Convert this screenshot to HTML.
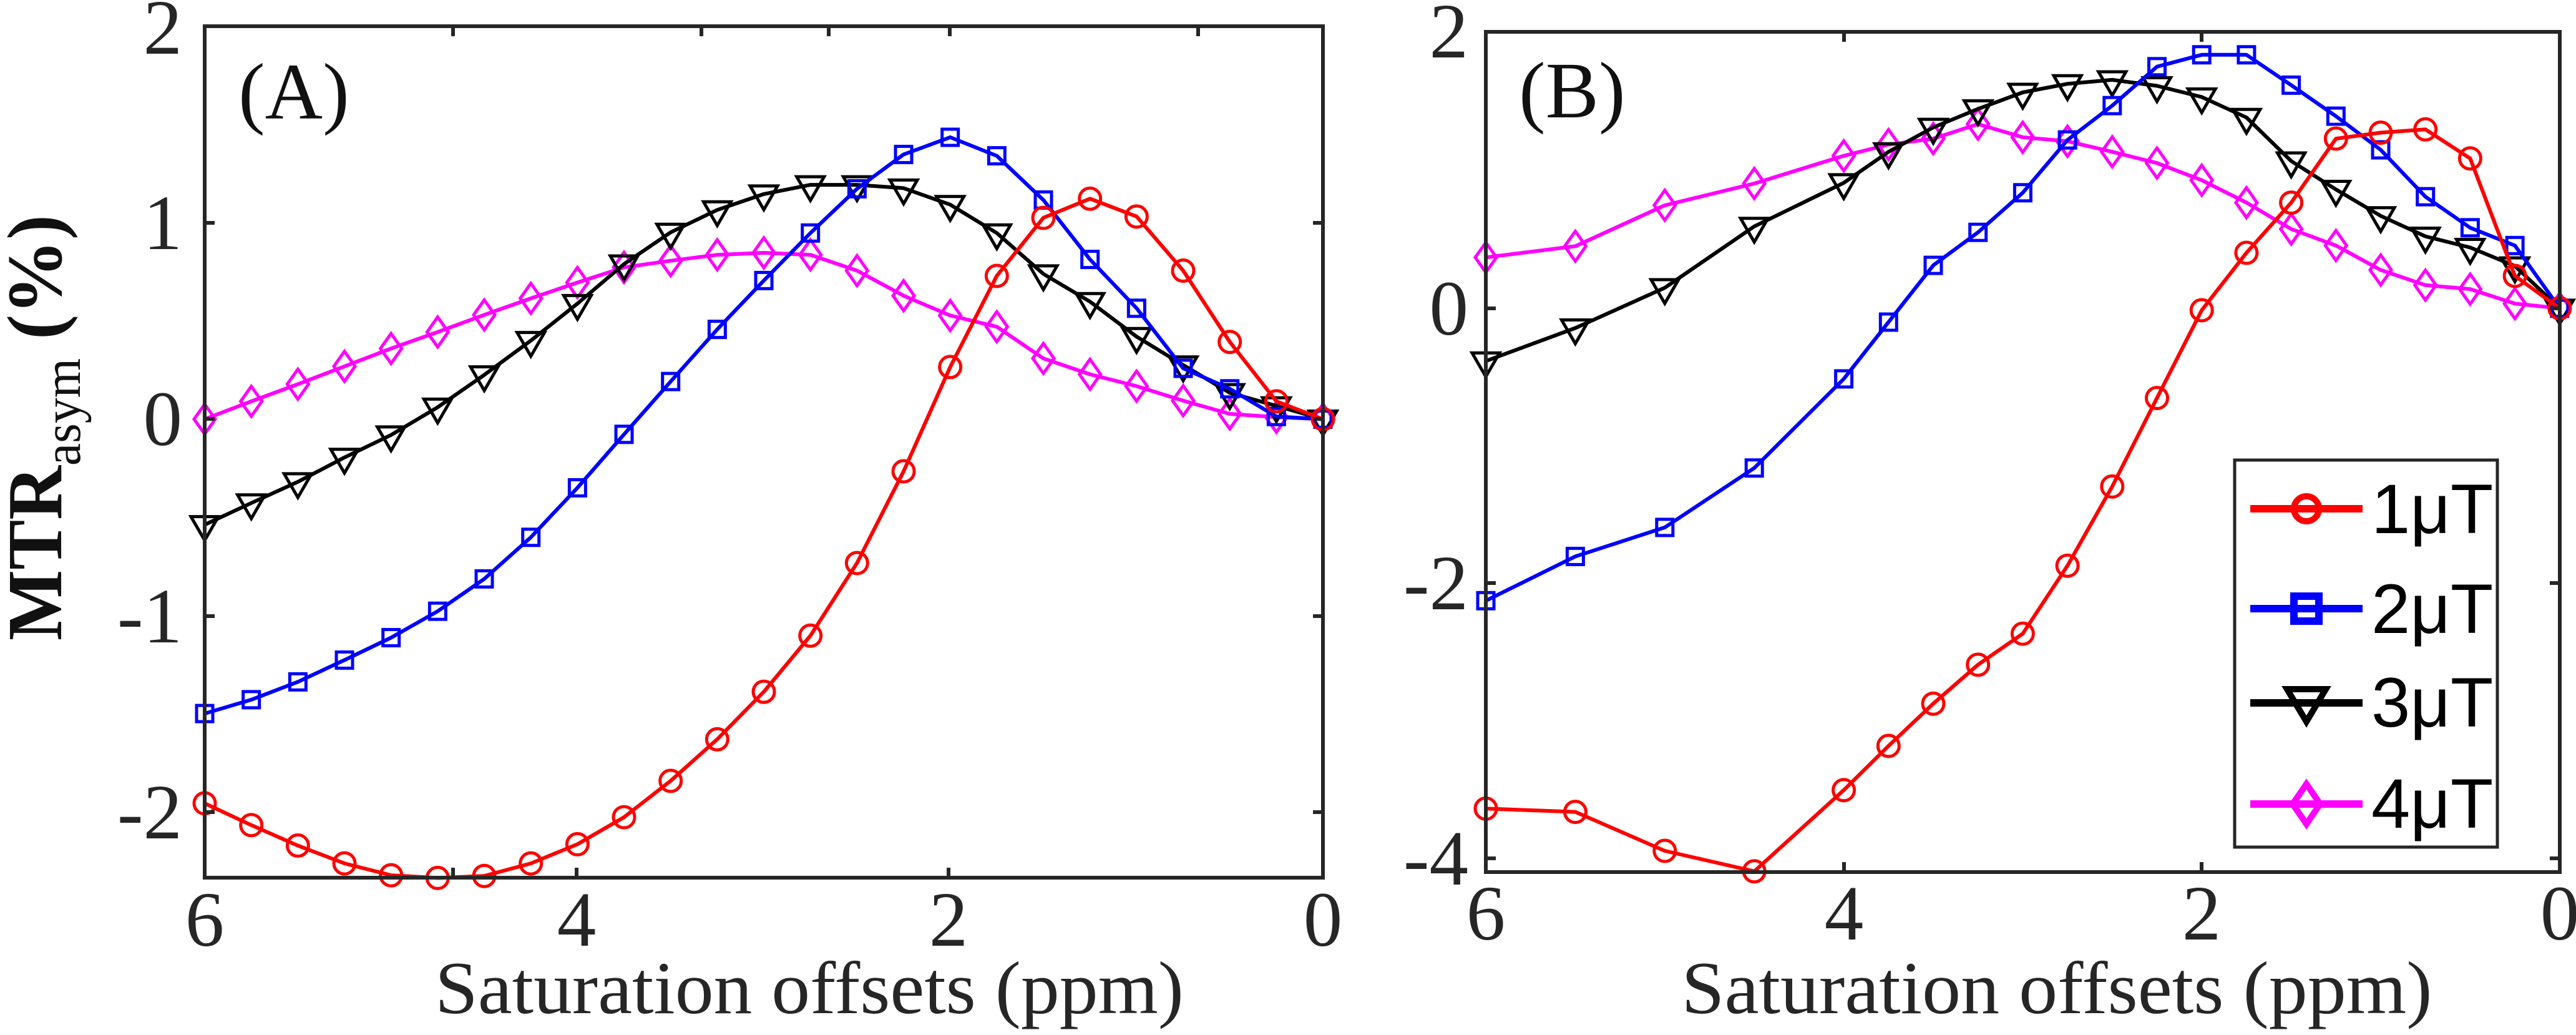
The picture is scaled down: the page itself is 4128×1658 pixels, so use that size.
<!DOCTYPE html>
<html><head><meta charset="utf-8"><style>
html,body{margin:0;padding:0;background:#fff;}
svg{display:block;}
</style></head><body>
<svg id="s" width="4128" height="1658" viewBox="0 0 4128 1658" xmlns="http://www.w3.org/2000/svg">
<rect width="4128" height="1658" fill="#fff"/>
<g id="series"></g>
<g fill="none" stroke="#262626" stroke-width="6">
<rect x="328" y="42" width="1792" height="1364"/>
<rect x="2381" y="51" width="1721" height="1346"/>
<path d="M328 42v16M1124 42v16M1920 42v16M1328 42v16M2120 42v16 M328 1406v-16M924 1406v-16M1520 1406v-16M2120 1406v-16 M726 42v16M1522 42v16 M726 1406v-16 M328 357h16M328 671h16M328 987h16M328 1301h16 M2120 357h-16M2120 671h-16M2120 987h-16M2120 1301h-16"/>
<path d="M2381 51v16M2955 51v16M3528 51v16 M2381 1397v-16M2955 1397v-16M3528 1397v-16 M2381 494h16M2381 934h16M2381 1375h16 M4102 494h-16M4102 934h-16M4102 1375h-16"/>
</g>
<g font-family="Liberation Serif, serif" font-size="125" fill="#262626">
<text x="292" y="86" text-anchor="end">2</text>
<text x="292" y="399" text-anchor="end">1</text>
<text x="292" y="713" text-anchor="end">0</text>
<text x="292" y="1029" text-anchor="end">-1</text>
<text x="292" y="1343" text-anchor="end">-2</text>
<text x="328" y="1515" text-anchor="middle">6</text>
<text x="924" y="1515" text-anchor="middle">4</text>
<text x="1520" y="1515" text-anchor="middle">2</text>
<text x="2120" y="1515" text-anchor="middle">0</text>
<text x="2353" y="92" text-anchor="end">2</text>
<text x="2353" y="536" text-anchor="end">0</text>
<text x="2353" y="976" text-anchor="end">-2</text>
<text x="2353" y="1417" text-anchor="end">-4</text>
<text x="2381" y="1505" text-anchor="middle">6</text>
<text x="2955" y="1505" text-anchor="middle">4</text>
<text x="3528" y="1505" text-anchor="middle">2</text>
<text x="4102" y="1505" text-anchor="middle">0</text>
<text x="1297" y="1623" text-anchor="middle" font-size="120" textLength="1200" lengthAdjust="spacingAndGlyphs">Saturation offsets (ppm)</text>
<text x="3296" y="1623" text-anchor="middle" font-size="120" textLength="1203" lengthAdjust="spacingAndGlyphs">Saturation offsets (ppm)</text>
<text x="382" y="190" font-size="128" fill="#111">(A)</text>
<text x="2434" y="188" font-size="128" fill="#111">(B)</text>
<text transform="translate(98,685) rotate(-90)" text-anchor="middle" fill="#111" font-weight="bold" font-size="125" textLength="682" lengthAdjust="spacingAndGlyphs">MTR<tspan font-weight="normal" font-size="85" dy="30">asym</tspan><tspan dy="-30"> (%)</tspan></text>
</g>
<rect x="3581" y="737" width="421" height="620" fill="#fff" stroke="#262626" stroke-width="5"/>
<g stroke-width="12" fill="none">
<line x1="3606" y1="815" x2="3786" y2="815" stroke="#f00"/>
<circle cx="3696" cy="815" r="20" stroke="#f00" stroke-width="10"/>
<line x1="3606" y1="975" x2="3786" y2="975" stroke="#00f"/>
<rect x="3676" y="955" width="40" height="40" stroke="#00f" stroke-width="12"/>
<line x1="3606" y1="1126" x2="3786" y2="1126" stroke="#000"/>
<path d="M3665 1104h62l-31 52z" stroke="#000" stroke-width="10" stroke-linejoin="miter"/>
<line x1="3606" y1="1288" x2="3786" y2="1288" stroke="#f0f"/>
<path d="M3696 1256l22 32l-22 32l-22-32z" stroke="#f0f" stroke-width="10"/>
</g>
<g font-family="Liberation Sans, sans-serif" font-size="112" fill="#000">
<text x="3800" y="854">1μT</text>
<text x="3800" y="1014">2μT</text>
<text x="3800" y="1164">3μT</text>
<text x="3800" y="1326">4μT</text>
</g>
<script>
(function(){
var S=0.9457, g=document.getElementById('series'), NS='http://www.w3.org/2000/svg';
function el(n,a){var e=document.createElementNS(NS,n);for(var k in a)e.setAttribute(k,a[k]);g.appendChild(e);return e;}
var xa=[];for(var i=0;i<25;i++)xa.push(6-0.25*i);
var xb=[6,5.5,5,4.5,4,3.75,3.5,3.25,3,2.75,2.5,2.25,2,1.75,1.5,1.25,1,0.75,0.5,0.25,0];
var A={x0:328,k:298.67,xs:xa,s:[
['#f0f','d',[635,608,582,555,528,503,477,452,428,405,395,386,383,386,410,448,478,495,543,567,585,607,627,632,635]],
['#000','t',[795,762,730,693,659,617,568,516,460,400,352,318,294,280,280,285,310,353,415,457,510,553,595,615,635]],
['#00f','q',[1081,1060,1033,1000,966,926,877,814,739,658,578,499,425,353,286,234,208,236,303,393,467,558,589,631,635]],
['#f00','c',[1217,1250,1281,1308,1326,1330,1327,1308,1279,1238,1183,1120,1048,963,853,714,556,418,330,301,328,410,518,608,635]]]};
var B={x0:2381,k:286.8,xs:xb,s:[
['#f0f','d',[390,373,311,278,236,219,210,188,208,214,230,247,273,307,347,372,409,432,438,460,467]],
['#000','t',[547,497,436,343,277,230,193,165,140,127,121,130,147,178,244,287,327,358,375,403,467]],
['#00f','q',[910,843,799,709,574,488,402,352,292,212,160,101,83,83,129,176,227,298,345,372,467]],
['#f00','c',[1225,1230,1289,1320,1197,1130,1066,1007,960,857,737,603,470,383,307,210,201,196,240,418,467]]]};
[A,B].forEach(function(P){
P.s.forEach(function(sr){
var pts=sr[2].map(function(y,i){return [P.x0+(6-P.xs[i])*P.k, y/S];});
el('polyline',{points:pts.map(function(p){return p[0].toFixed(1)+','+p[1].toFixed(1)}).join(' '),fill:'none',stroke:sr[0],'stroke-width':6,'stroke-linejoin':'round'});
pts.forEach(function(p){var x=p[0],y=p[1],c=sr[0];
if(sr[1]=='c')el('circle',{cx:x,cy:y,r:17,fill:'none',stroke:c,'stroke-width':5});
else if(sr[1]=='q')el('rect',{x:x-13,y:y-13,width:26,height:26,fill:'none',stroke:c,'stroke-width':5});
else if(sr[1]=='t')el('path',{d:'M'+(x-22)+' '+(y-13)+'h44l-22 38z',fill:'none',stroke:c,'stroke-width':5});
else el('path',{d:'M'+x+' '+(y-24)+'l17 24l-17 24l-17-24z',fill:'none',stroke:c,'stroke-width':5});
});
});
});
})();
</script>
</svg>
</body></html>
